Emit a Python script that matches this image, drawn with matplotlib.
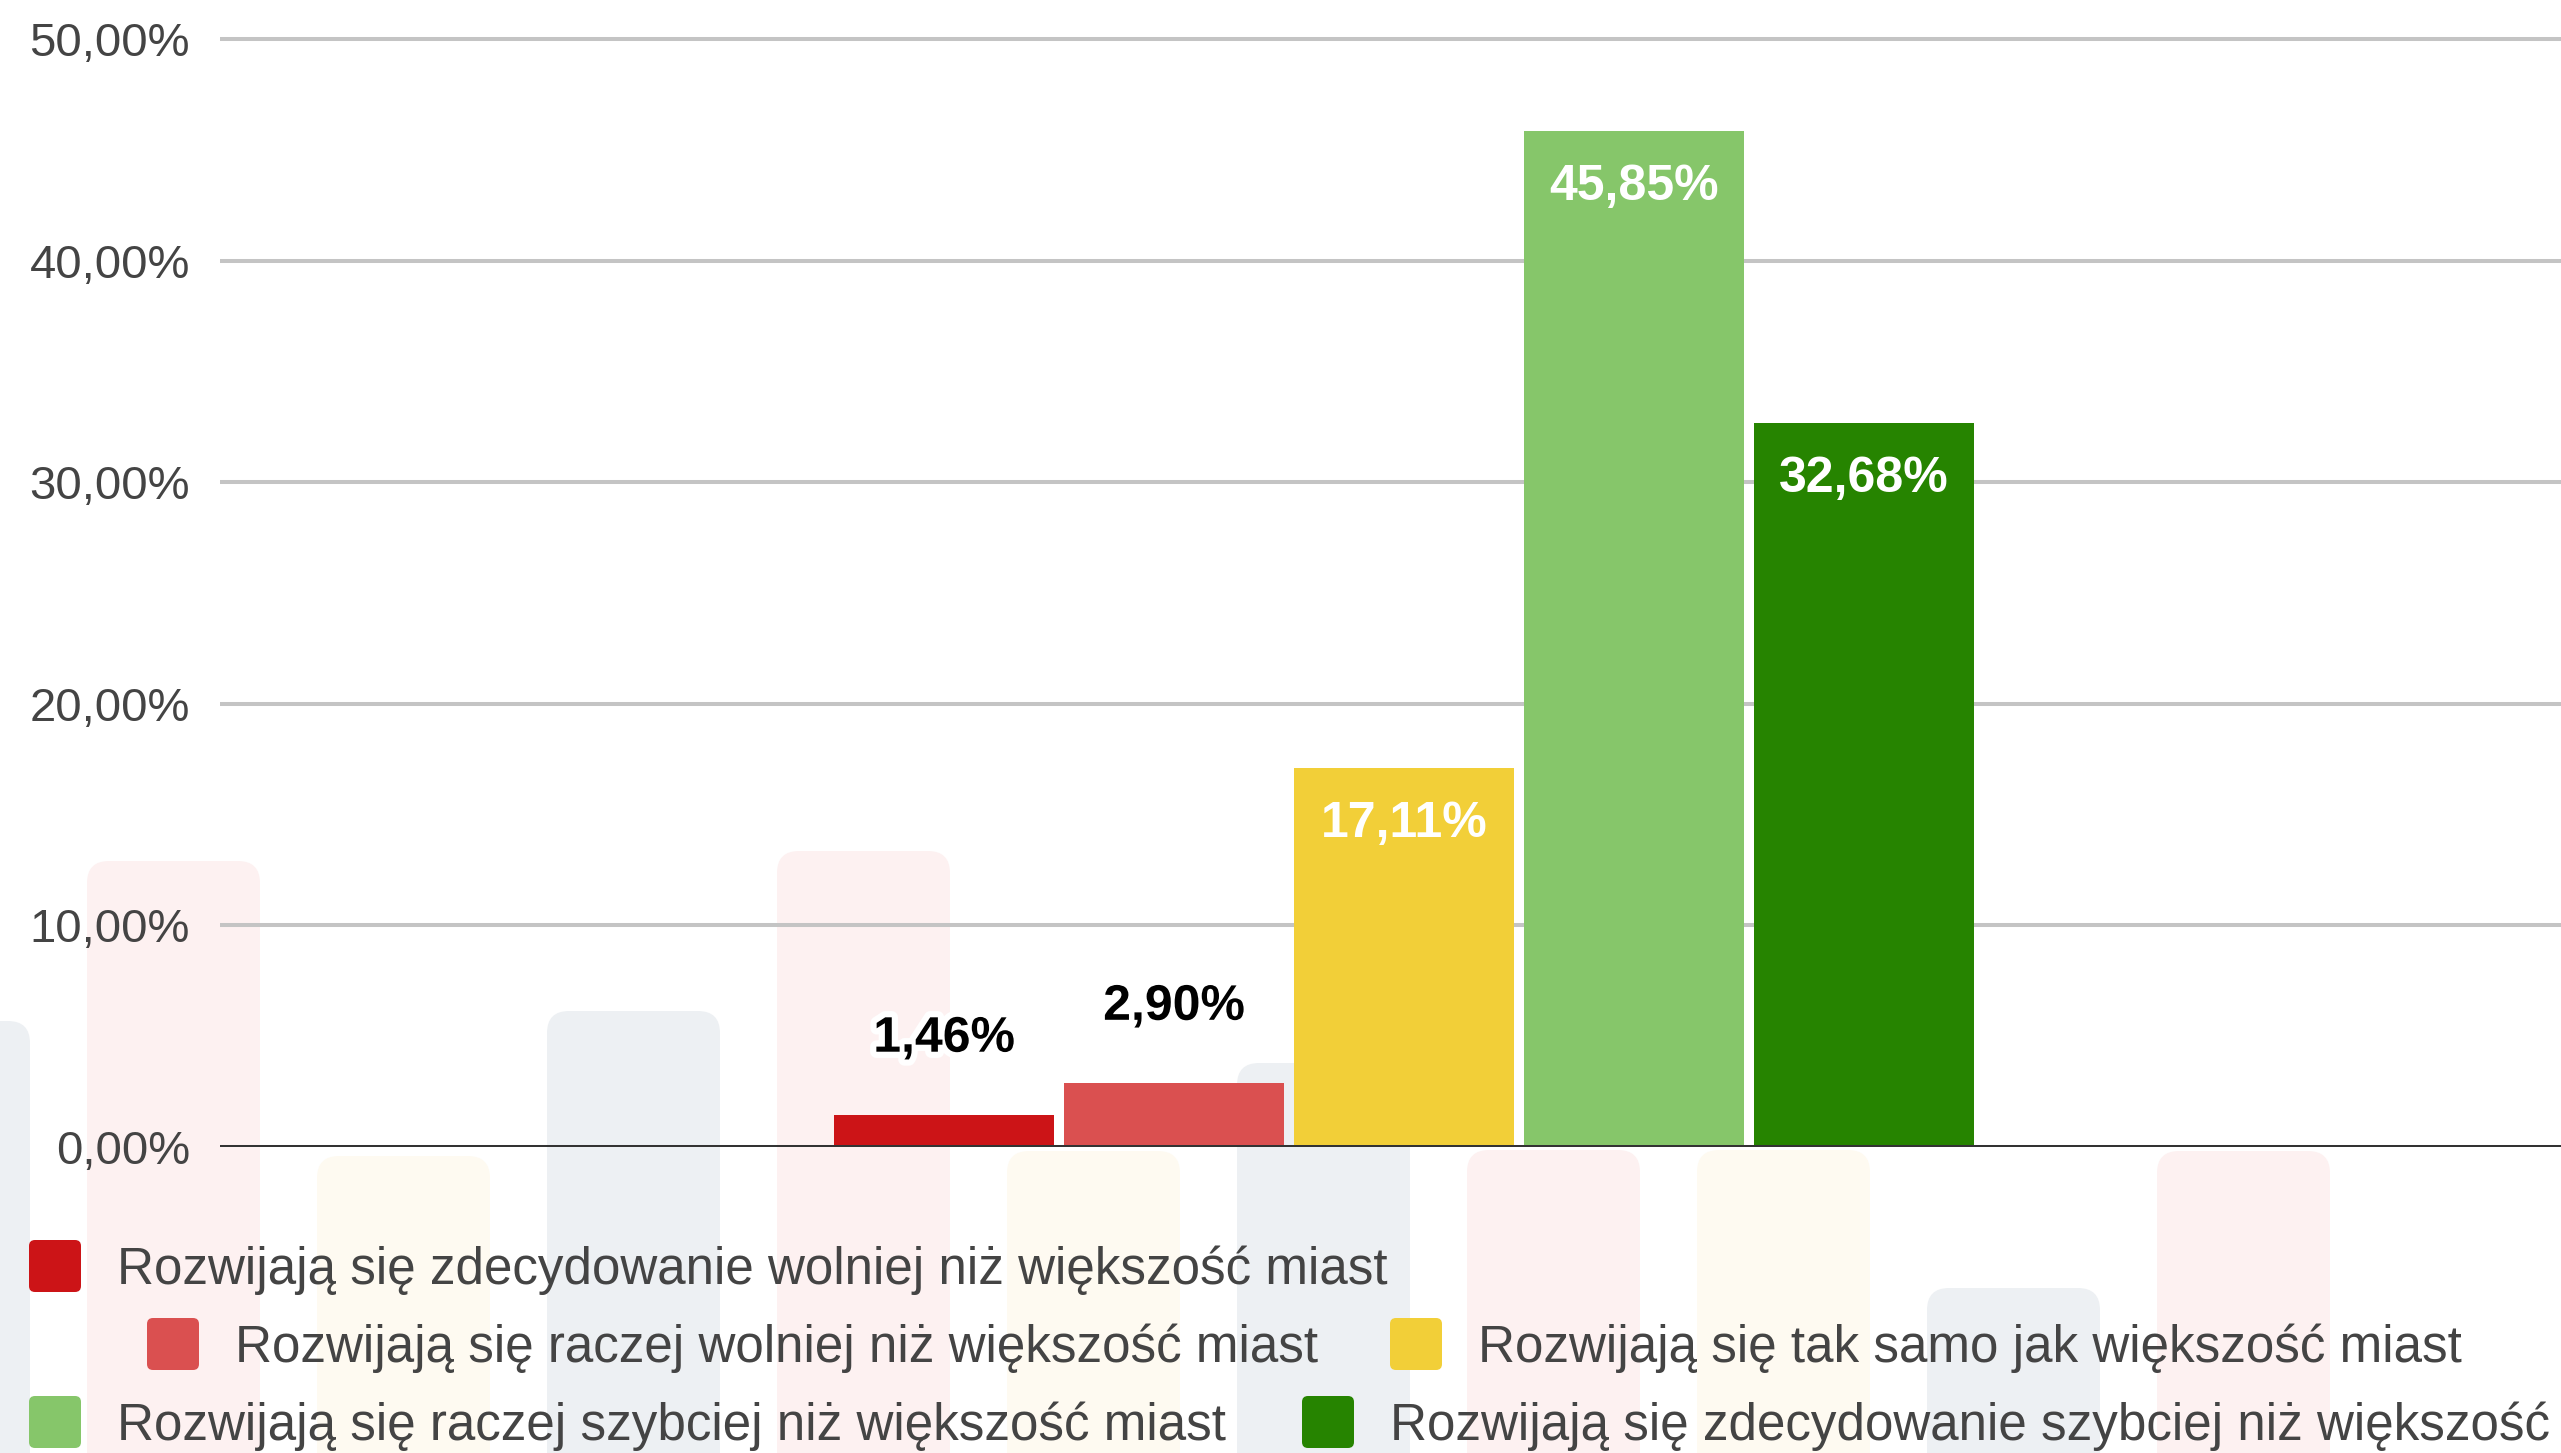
import matplotlib
import matplotlib.pyplot as plt
import matplotlib.patheffects as pe
from matplotlib.patches import FancyBboxPatch

matplotlib.rcParams['font.family'] = ['Liberation Sans', 'DejaVu Sans']

# data
categories = ['Rozwijają się zdecydowanie wolniej niż większość miast',
              'Rozwijają się raczej wolniej niż większość miast',
              'Rozwijają się tak samo jak większość miast',
              'Rozwijają się raczej szybciej niż większość miast',
              'Rozwijają się zdecydowanie szybciej niż większość miast']
values = [1.46, 2.90, 17.11, 45.85, 32.68]
colors = ['#cc1417', '#da5050', '#f2cf38', '#86c66a', '#268400']
yticks = [0, 10, 20, 30, 40, 50]

# faint background stripes (decoration behind the chart, pixel coords)
stripe_left = [-143, 87, 317, 547, 777, 1007, 1237, 1467, 1697, 1927, 2157]
stripe_top = [1021, 861, 1156, 1011, 851, 1151, 1063, 1150, 1150, 1288, 1151]
stripe_cols = ['#edf0f3', '#fdf1f1', '#fefaf1']

W, H = 2561, 1453
fig = plt.figure(figsize=(W / 100, H / 100), dpi=100)

bg = fig.add_axes([0, 0, 1, 1], zorder=0)
bg.set_xlim(0, W)
bg.set_ylim(H, 0)
bg.axis('off')
for i, (x0, t) in enumerate(zip(stripe_left, stripe_top)):
    bg.add_patch(FancyBboxPatch((x0, t), 173, H + 60 - t,
                                boxstyle='round,pad=0,rounding_size=22',
                                fc=stripe_cols[i % 3], ec='none'))

# main axes, y=0 at 1147px, 22.16px per percent
px = (1147 - 39) / 50
ax = fig.add_axes([220 / W, (H - 1147) / H, 1 - 220 / W, (1147 - 20) / H], zorder=1)
ax.patch.set_alpha(0)
ax.set_ylim(0, (1147 - 20) / px)
ax.set_xlim(-3.148, -3.148 + (W - 220) / 230)

xs = list(range(len(values)))
ax.bar(xs, values, width=0.96, color=colors, zorder=2)

for x, v in zip(xs, values):
    s = '{:.2f}%'.format(v).replace('.', ',')
    if v > 10:
        ax.text(x, v - 3.1, s, ha='center', va='baseline', fontsize=36,
                fontweight='bold', color='white', zorder=4)
    else:
        ax.text(x, v + 2.84, s, ha='center', va='baseline', fontsize=36,
                fontweight='bold', color='black', zorder=4,
                path_effects=[pe.withStroke(linewidth=9, foreground='white')])

ax.set_yticks(yticks)
ax.set_yticklabels(['{:.2f}%'.format(t).replace('.', ',') for t in yticks])
ax.tick_params(axis='y', length=0, pad=21.6, labelsize=34, labelcolor='#444444')
ax.set_xticks([])
for sp in ax.spines.values():
    sp.set_visible(False)
ax.yaxis.grid(True, color='#c4c4c4', linewidth=2.9)
ax.set_axisbelow(True)
ax.axhline(0, color='#333333', linewidth=3.6, zorder=3)

# legend, laid out in rows like the original
leg_rows = [[0], [1, 2], [3, 4]]
row_y = [1266, 1344, 1422]
row_x = [[29], [147, 1390], [29, 1302]]
for r, items in enumerate(leg_rows):
    for k, idx in enumerate(items):
        x0 = row_x[r][k]
        bg.add_patch(FancyBboxPatch((x0, row_y[r] - 26), 52, 52,
                                    boxstyle='round,pad=0,rounding_size=6',
                                    fc=colors[idx], ec='none', zorder=5))
        bg.text(x0 + 88, row_y[r] + 18, categories[idx], fontsize=36.8,
                color='#444444', ha='left', va='baseline', zorder=5)

plt.savefig('out.png', dpi=100)
